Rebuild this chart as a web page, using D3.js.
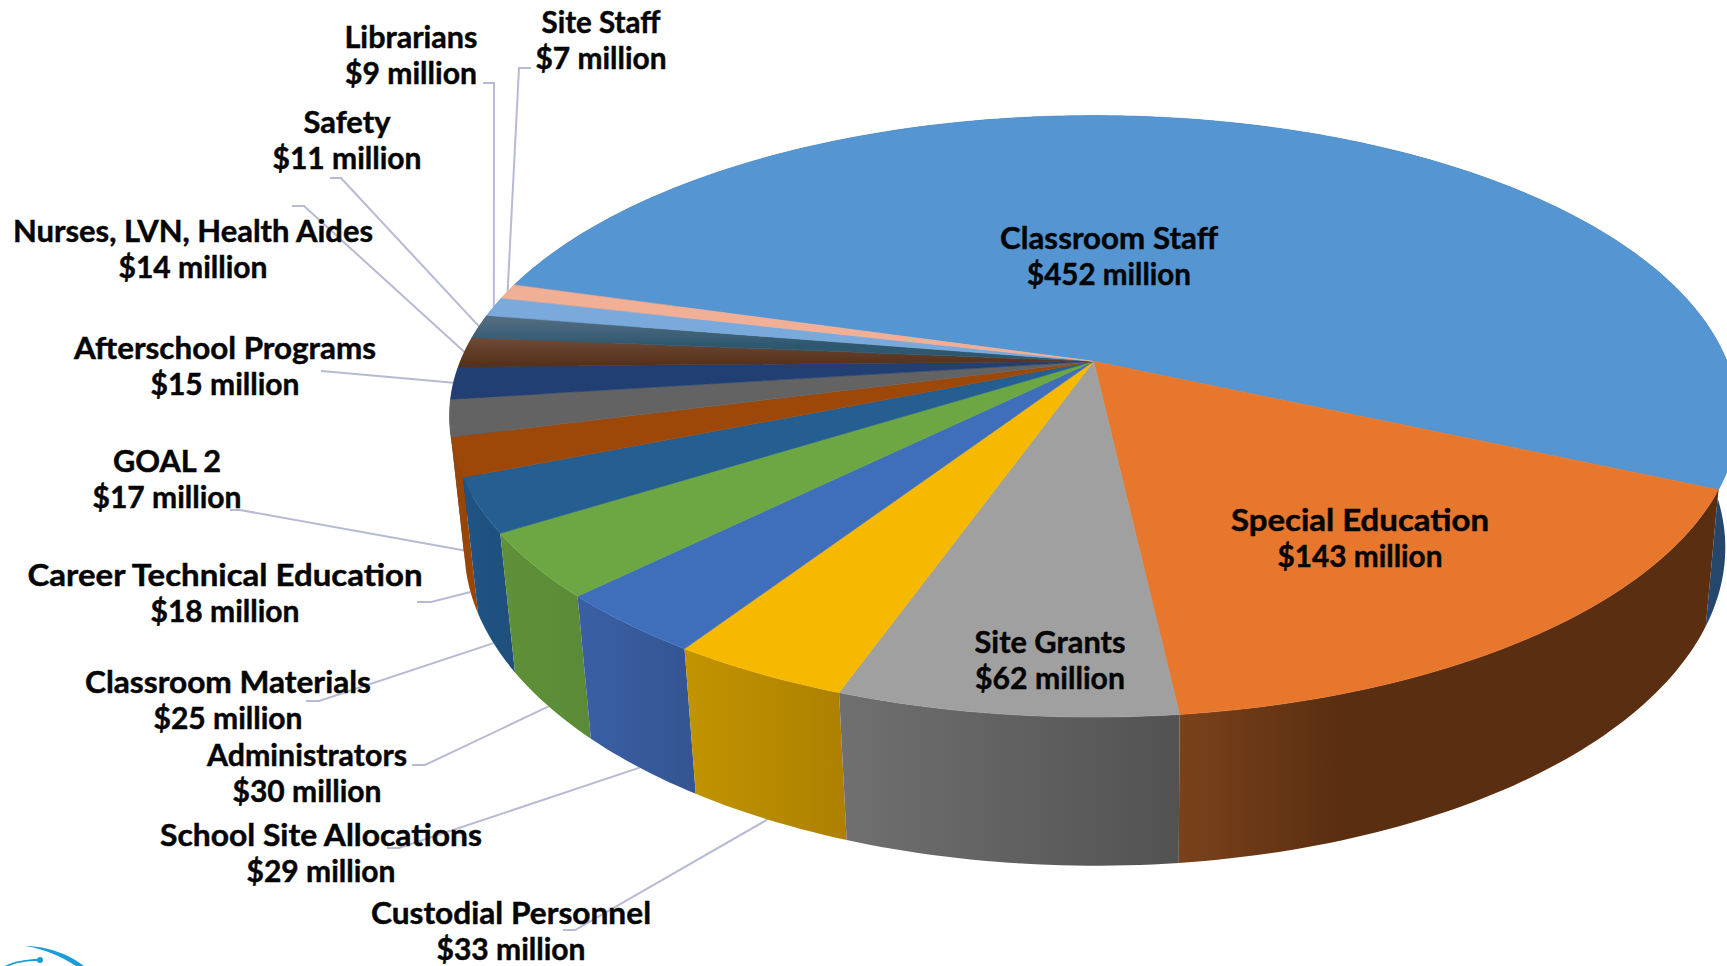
<!DOCTYPE html>
<html>
<head>
<meta charset="utf-8">
<title>Budget allocation</title>
<script src="https://cdnjs.cloudflare.com/ajax/libs/d3/7.8.5/d3.min.js"></script>
<style>
  html, body { margin: 0; padding: 0; background: #fff; overflow: hidden; }
  svg { display: block; }
  text { font-family: Lato, "Open Sans", sans-serif; font-weight: 700; fill: #050505; stroke: #050505; stroke-width: 0.45; }
</style>
</head>
<body>
<svg id="chart" width="1727" height="966"></svg>
<script>
// Budget categories in clockwise order, values in millions of dollars.
const categories = [
  "Classroom Staff", "Special Education", "Site Grants", "Custodial Personnel",
  "School Site Allocations", "Administrators", "Classroom Materials",
  "Career Technical Education", "GOAL 2", "Afterschool Programs",
  "Nurses, LVN, Health Aides", "Safety", "Librarians", "Site Staff"
];
const amounts = [452, 143, 62, 33, 29, 30, 25, 18, 17, 15, 14, 11, 9, 7];

// Slice colours: top face, then the shaded outer wall.
const topColors = ["#5596d2", "#e6772d", "#a0a0a0", "#f7b900", "#3f6fbb", "#6da744", "#255e91",
                   "#9d4809", "#636363", "#223f74", "#55301a", "#2e5870", "#7aaadc", "#f1af95"];
const wallStart = ["#24476b", "#7a421a", "#707070", "#c29400", "#3a5fa5", "#5f9139", "#1f5485",
                   "#984508", "#4a4a4a", "#1a3058", "#402412", "#234255", "#5c80a6", "#b58470"];
const wallEnd   = ["#24476b", "#5a2e11", "#525252", "#ad8000", "#335591", "#5a8a36", "#1f4f7c",
                   "#984508", "#4a4a4a", "#1a3058", "#402412", "#234255", "#5c80a6", "#b58470"];
const wallFadeStop = [1, 0.3, 1, 1, 1, 1, 1, 1, 1, 1, 1, 1, 1, 1];

// Label centres and leader lines, in page pixels. `depth` picks where the
// leader meets the pie: 0 on the top rim, 1 on the lower rim.
const labelCentres = [
  [1109, 256], [1360, 538], [1050, 660], [511, 931], [321, 853], [307, 773], [228, 700],
  [225, 593], [167, 479], [225, 366], [193, 249], [347, 140], [411, 55], [601, 40]
];
const nameWidths = [218, 258, 151, 280, 322, 200, 286, 395, 108, 302, 360, 87, 133, 119];
const amountWidths = [164, 165, 150, 149, 149, 149, 149, 149, 149, 149, 149, 149, 132, 131];
const leaderElbows = [
  null, null, null,
  [[563, 930], [575, 930]], [[387, 848], [399, 848]], [[412, 765], [425, 765]], [[306, 701], [319, 701]],
  [[417, 602], [431, 602]], [[230, 510], [240, 510]], [[321, 371], [333, 372]], [[292, 206], [304, 206]],
  [[330, 178], [341, 178]], [[483, 83], [494, 83]], [[531, 68], [519, 68]]
];
const leaderDepth = [0, 0, 0, 1, 1, 1, 1, 1, 1, 0, 0, 0, 0, 0];

const lineGap = 36;
const labelSize = 30;
const labelLift = 1;

// Perspective projection of the tilted disc: apex position, horizontal and
// vertical radii, foreshortening, and the same terms for the wall height.
const view = { cx: 1093.7, cy: 361.3, rx: 633.3, ry: 290.7, tilt: 0.183, wallY: 132, wallX: 1.1, wallTaper: 0.021 };

function project(angle, depth) {
  const u = Math.sin(angle), v = -Math.cos(angle);
  const d = 1 - view.tilt * v + view.wallTaper * depth;
  return [
    view.cx + (view.rx * u + view.wallX * depth) / d,
    view.cy + (view.ry * v + view.wallY * depth) / d
  ];
}

const pie = d3.pie().sort(null)
  .startAngle(-74 * Math.PI / 180)
  .endAngle(286 * Math.PI / 180);
const slices = pie(amounts);
const svg = d3.select("#chart");
const defs = svg.append("defs");
const line = d3.line();

function arcAngles(s) {
  const n = Math.max(2, Math.ceil((s.endAngle - s.startAngle) * 180 / Math.PI));
  return d3.range(n + 1).map(i => s.startAngle + (s.endAngle - s.startAngle) * i / n);
}

// Leader lines sit underneath the pie.
svg.append("g").selectAll("path")
  .data(slices.filter(s => leaderElbows[s.index]))
  .join("path")
  .attr("fill", "none")
  .attr("stroke", "#b7bad3")
  .attr("stroke-width", 2)
  .attr("d", s => {
    const mid = (s.startAngle + s.endAngle) / 2;
    return line([...leaderElbows[s.index], project(mid, leaderDepth[s.index])]);
  });

// Horizontal shading for each outer wall.
slices.forEach(s => {
  const g = defs.append("linearGradient").attr("id", "wall" + s.index);
  g.append("stop").attr("offset", 0).attr("stop-color", wallStart[s.index]);
  g.append("stop").attr("offset", wallFadeStop[s.index]).attr("stop-color", wallEnd[s.index]);
});

// Two narrow top faces fade vertically towards the rim.
const rimFades = [
  { index: 10, y1: 337, y2: 365, from: "#6f4c39", to: "#55301a" },
  { index: 11, y1: 320, y2: 345, from: "#526b7f", to: "#2e5870" }
];
rimFades.forEach(f => {
  const g = defs.append("linearGradient").attr("id", "rim" + f.index)
    .attr("gradientUnits", "userSpaceOnUse")
    .attr("x1", 0).attr("x2", 0).attr("y1", f.y1).attr("y2", f.y2);
  g.append("stop").attr("offset", 0).attr("stop-color", f.from);
  g.append("stop").attr("offset", 1).attr("stop-color", f.to);
});
const topFill = s => rimFades.some(f => f.index === s.index) ? `url(#rim${s.index})` : topColors[s.index];

// Outer walls, back to front.
const byDepth = slices.slice().sort((a, b) =>
  project((a.startAngle + a.endAngle) / 2, 0)[1] - project((b.startAngle + b.endAngle) / 2, 0)[1]);
svg.append("g").selectAll("path")
  .data(byDepth)
  .join("path")
  .attr("fill", s => `url(#wall${s.index})`)
  .attr("d", s => {
    const angles = arcAngles(s);
    return line([...angles.map(a => project(a, 0)), ...angles.slice().reverse().map(a => project(a, 1))]) + "Z";
  });

// Top faces.
svg.append("g").selectAll("path")
  .data(slices)
  .join("path")
  .attr("fill", topFill)
  .attr("stroke", topFill)
  .attr("stroke-width", 0.6)
  .attr("d", s => line([[view.cx, view.cy], ...arcAngles(s).map(a => project(a, 0))]) + "Z");

// Two-line labels: category name above its amount.
const labels = svg.append("g").attr("font-size", labelSize).attr("text-anchor", "middle")
  .selectAll("g").data(slices).join("g")
  .attr("transform", s => `translate(${labelCentres[s.index][0]},${labelCentres[s.index][1] - labelLift})`);
labels.append("text")
  .attr("y", -lineGap / 2)
  .attr("dominant-baseline", "central")
  .attr("textLength", s => nameWidths[s.index])
  .attr("lengthAdjust", "spacingAndGlyphs")
  .text(s => categories[s.index]);
labels.append("text")
  .attr("y", lineGap / 2)
  .attr("dominant-baseline", "central")
  .attr("textLength", s => amountWidths[s.index])
  .attr("lengthAdjust", "spacingAndGlyphs")
  .text(s => `$${s.value} million`);

// Corner emblem, running off the bottom of the page.
const emblem = svg.append("g").attr("fill", "#1b9dd6");
emblem.append("path").attr("d", "M25,946 C48,946 70,955 84,966 L76,966 C62,957 45,949 25,946Z");
emblem.append("path").attr("d", "M5,966 C14,961 28,959 38,959 L38,961 C26,961 15,963 9,966Z");
emblem.append("circle").attr("cx", 40).attr("cy", 960).attr("r", 3);
</script>
</body>
</html>
